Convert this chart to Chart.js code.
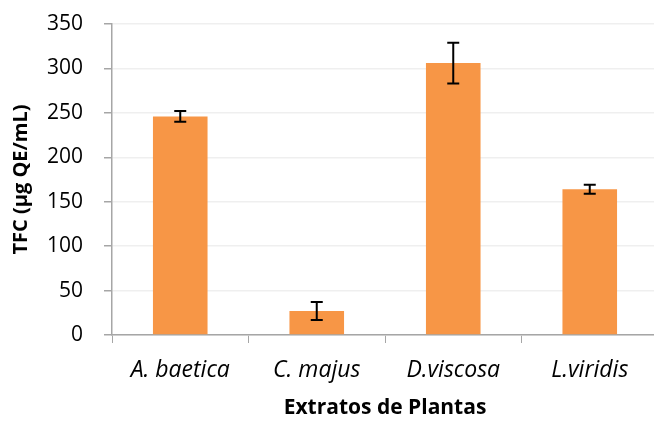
<!DOCTYPE html>
<html>
<head>
<meta charset="utf-8">
<script src="https://cdn.jsdelivr.net/npm/chart.js@4.4.1/dist/chart.umd.min.js"></script>
<style>
  html, body { margin: 0; padding: 0; background: #fff; overflow: hidden; }
  #wrap { width: 664px; height: 421px; }
</style>
</head>
<body>
<div id="wrap"><canvas id="chart" width="664" height="421"></canvas></div>
<script>
// Data
var categories = ["A. baetica", "C. majus", "D.viscosa", "L.viridis"];
var tfcValues = [246, 27, 306, 164];
var tfcErrors = [6, 10, 23, 5];
var yTicks = [0, 50, 100, 150, 200, 250, 300, 350];

var axisGray = "#a6a6a6";
var fontFamily = "'Open Sans', 'Noto Sans', sans-serif";

// Draw error bars on top of the bars
var errorBars = {
    id: "errorBars",
    afterDatasetsDraw: function(chart) {
        var ctx = chart.ctx;
        var meta = chart.getDatasetMeta(0);
        var yScale = chart.scales.y;
        ctx.save();
        ctx.strokeStyle = "#000";
        ctx.lineWidth = 2;
        for (var i = 0; i < meta.data.length; i++) {
            var x = meta.data[i].x;
            var top = yScale.getPixelForValue(tfcValues[i] + tfcErrors[i]);
            var bot = yScale.getPixelForValue(tfcValues[i] - tfcErrors[i]);
            ctx.beginPath();
            ctx.moveTo(x, top); ctx.lineTo(x, bot);
            ctx.moveTo(x - 6, top); ctx.lineTo(x + 6, top);
            ctx.moveTo(x - 6, bot); ctx.lineTo(x + 6, bot);
            ctx.stroke();
        }
        ctx.restore();
    }
};

var ctx = document.getElementById("chart").getContext("2d");
var chart = new Chart(ctx, {
    type: "bar",
    data: {
        labels: categories,
        datasets: [{
            label: "TFC",
            data: tfcValues,
            backgroundColor: "#f79646",
            barPercentage: 0.4,
            categoryPercentage: 1.0
        }]
    },
    options: {
        responsive: false,
        animation: false,
        layout: { padding: { top: 24, left: 9, right: 6, bottom: 0 } },
        plugins: { legend: { display: false }, tooltip: { enabled: false } },
        scales: {
            x: {
                grid: { drawOnChartArea: false, color: axisGray, tickLength: 8, offset: true },
                border: { color: axisGray, width: 1.5 },
                ticks: { color: "#000", font: { family: fontFamily, size: 23, style: "italic" }, padding: 14 },
                title: { display: true, text: "Extratos de Plantas", color: "#000",
                         font: { family: fontFamily, size: 21, weight: "bold" }, padding: { top: 11, bottom: 0 } },
                afterFit: function(s) { s.height = 86; s.paddingLeft = 0; s.paddingRight = 0; }
            },
            y: {
                min: 0, max: 350,
                afterBuildTicks: function(s) { s.ticks = yTicks.map(function(v) { return { value: v }; }); },
                grid: { color: "#efefef", lineWidth: 1.5, tickColor: axisGray, tickLength: 8 },
                border: { color: axisGray, width: 1.5 },
                ticks: { color: "#000", font: { family: fontFamily, size: 21 }, padding: 21 },
                title: { display: true, text: "TFC (µg QE/mL)", color: "#000",
                         font: { family: fontFamily, size: 20, weight: "bold" }, padding: 0 },
                afterFit: function(s) { s.width = 103; s.paddingTop = 0; s.paddingBottom = 0; }
            }
        }
    },
    plugins: [errorBars]
});
</script>
</body>
</html>
